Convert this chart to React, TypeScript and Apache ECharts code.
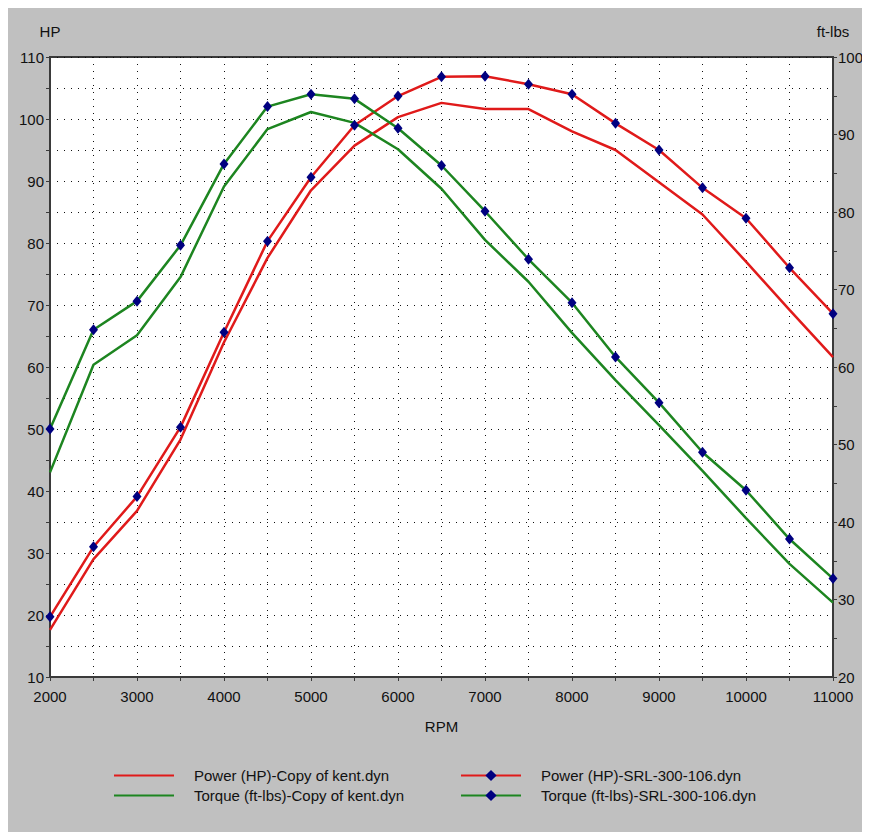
import React, { useEffect, useRef } from "react";
import * as echarts from "echarts";

const rpm = [2000, 2500, 3000, 3500, 4000, 4500, 5000, 5500, 6000, 6500, 7000, 7500, 8000, 8500, 9000, 9500, 10000, 10500, 11000];
const powerKent = [17.6, 29.0, 36.8, 48.3, 64.0, 77.6, 88.5, 95.7, 100.3, 102.6, 101.6, 101.6, 98.0, 95.0, 89.8, 84.6, 77.0, 69.2, 61.6];
const torqueKent = [46.4, 60.3, 64.1, 71.6, 83.3, 90.7, 92.9, 91.5, 88.1, 83.0, 76.4, 71.0, 64.4, 58.3, 52.5, 46.6, 40.5, 34.6, 29.6];
const powerSRL = [19.7, 31.0, 39.1, 50.3, 65.6, 80.3, 90.6, 99.0, 103.7, 106.8, 106.9, 105.6, 104.0, 99.3, 95.0, 88.9, 84.0, 76.0, 68.6];
const torqueSRL = [52.0, 64.8, 68.5, 75.7, 86.2, 93.6, 95.2, 94.6, 90.8, 86.0, 80.1, 73.9, 68.3, 61.3, 55.4, 49.0, 44.1, 37.8, 32.7];

const names = [
  "Power (HP)-Copy of kent.dyn",
  "Torque (ft-lbs)-Copy of kent.dyn",
  "Power (HP)-SRL-300-106.dyn",
  "Torque (ft-lbs)-SRL-300-106.dyn",
];

const RED = "#e01a1a";
const GREEN = "#1d8520";
const MARK = "#000080";
const AXIS = "#3a3a3a";
const FONT = "'Liberation Sans', Arial, sans-serif";

const pairs = (vals: number[]) => rpm.map((r, i) => [r, vals[i]]);

export default function App() {
  const ref = useRef<HTMLDivElement>(null);
  useEffect(() => {
    if (!ref.current) return;
    const chart = echarts.init(ref.current, null, { renderer: "svg" });
    const axisCommon = {
      axisLine: { show: true, onZero: false, lineStyle: { color: AXIS, width: 2 } },
      axisTick: { show: true, length: 4, lineStyle: { color: AXIS, width: 1 } },
    };
    const dotted = { show: true, lineStyle: { color: "#111", width: 1, type: [1, 6] as any } };
    const legendText = { color: "#111", fontSize: 15, fontFamily: FONT, padding: [0, 0, 0, 15] };
    chart.setOption({
      animation: false,
      backgroundColor: "#c0c0c0",
      textStyle: { fontFamily: FONT },
      grid: {
        left: 42,
        right: 37,
        top: 49,
        bottom: 155,
        show: true,
        backgroundColor: "#ffffff",
        borderColor: AXIS,
        borderWidth: 2,
      },
      xAxis: {
        type: "value",
        min: 2000,
        max: 11000,
        interval: 500,
        name: "RPM",
        nameLocation: "middle",
        nameGap: 42,
        nameTextStyle: { color: "#111", fontSize: 15, fontFamily: FONT },
        ...axisCommon,
        axisLabel: {
          color: "#111",
          fontSize: 15,
          fontFamily: FONT,
          margin: 12,
          formatter: (v: number) => (v % 1000 === 0 ? String(v) : ""),
        },
        splitLine: dotted,
      },
      yAxis: [
        {
          type: "value",
          min: 10,
          max: 110,
          interval: 5,
          position: "left",
          name: "HP",
          nameLocation: "end",
          nameGap: 18,
          nameTextStyle: { color: "#111", fontSize: 15, fontFamily: FONT, align: "center" },
          ...axisCommon,
          axisLabel: {
            color: "#111",
            fontSize: 15,
            fontFamily: FONT,
            margin: 6,
            formatter: (v: number) => (v % 10 === 0 ? String(v) : ""),
          },
          splitLine: dotted,
        },
        {
          type: "value",
          min: 20,
          max: 100,
          interval: 5,
          position: "right",
          alignTicks: false,
          name: "ft-lbs",
          nameLocation: "end",
          nameGap: 18,
          nameTextStyle: { color: "#111", fontSize: 15, fontFamily: FONT, align: "center" },
          ...axisCommon,
          axisLabel: {
            color: "#111",
            fontSize: 15,
            fontFamily: FONT,
            margin: 5,
            formatter: (v: number) => (v % 10 === 0 ? String(v) : ""),
          },
          splitLine: { show: false },
        },
      ],
      legend: [
        {
          orient: "vertical",
          left: 100,
          top: 755,
          itemWidth: 60,
          itemHeight: 14,
          itemGap: 5,
          itemStyle: { opacity: 0 },
          data: [names[0], names[1]],
          textStyle: legendText,
        },
        {
          orient: "vertical",
          left: 447,
          top: 755,
          itemWidth: 60,
          itemHeight: 14,
          itemGap: 5,
          data: [names[2], names[3]],
          textStyle: legendText,
        },
      ],
      series: [
        {
          name: names[0],
          type: "line",
          yAxisIndex: 0,
          data: pairs(powerKent),
          symbol: "none",
          lineStyle: { color: RED, width: 2.5 },
          itemStyle: { color: RED },
        },
        {
          name: names[1],
          type: "line",
          yAxisIndex: 1,
          data: pairs(torqueKent),
          symbol: "none",
          lineStyle: { color: GREEN, width: 2.5 },
          itemStyle: { color: GREEN },
        },
        {
          name: names[2],
          type: "line",
          yAxisIndex: 0,
          data: pairs(powerSRL),
          symbol: "diamond",
          symbolSize: [9, 11],
          lineStyle: { color: RED, width: 2.5 },
          itemStyle: { color: MARK },
        },
        {
          name: names[3],
          type: "line",
          yAxisIndex: 1,
          data: pairs(torqueSRL),
          symbol: "diamond",
          symbolSize: [9, 11],
          lineStyle: { color: GREEN, width: 2.5 },
          itemStyle: { color: MARK },
        },
      ],
    });
    return () => chart.dispose();
  }, []);
  return <div ref={ref} style={{ width: 862, height: 824 }} />;
}
